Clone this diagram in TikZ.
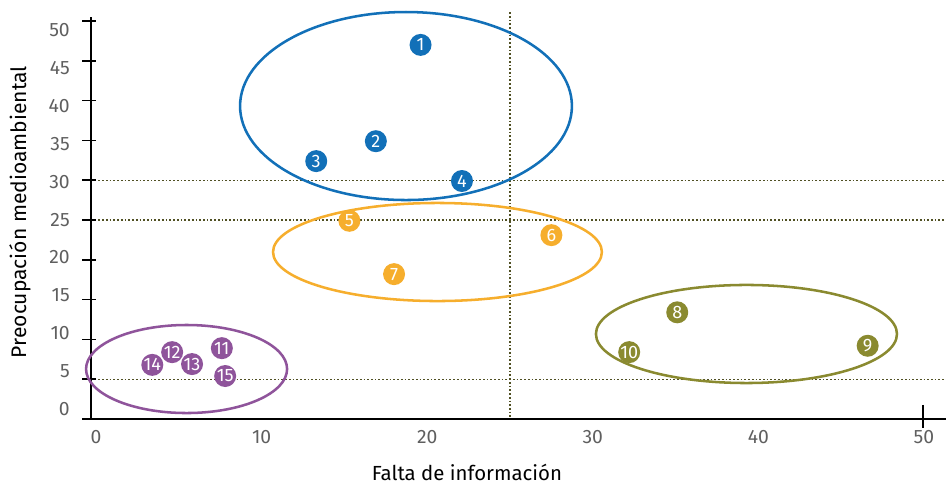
\documentclass[tikz,border=0pt]{standalone}
\usepackage{fontspec}
\setmainfont{Fira Sans}
\setsansfont{Fira Sans}
\usepackage{tikz}
\definecolor{grupoblue}{RGB}{18,112,184}
\definecolor{grupoorange}{RGB}{246,174,45}
\definecolor{grupoolive}{RGB}{138,138,48}
\definecolor{grupopurple}{RGB}{143,84,155}
\definecolor{guide}{RGB}{80,80,35}
\definecolor{ticklabel}{RGB}{95,95,95}

\begin{document}
\begin{tikzpicture}[x=12.42pt,y=5.97pt,
  punto/.style={circle,fill=#1,text=white,minimum size=16.5pt,inner sep=0pt,font=\fontsize{13.5}{13.5}\selectfont},
  grupo/.style={draw=#1,line width=1.9pt},
  guia/.style={guide,line width=0.85pt,dash pattern=on 1.3pt off 1.5pt}]
\useasboundingbox (-5.797,-8.417) rectangle (51.33,52.64);

% Guide lines
\draw[guia] (-0.3,30) -- (51.33,30);
\draw[guia] (-0.3,25) -- (51.33,25);
\draw[guia] (-0.3,5) -- (51.33,5);
\draw[guia] (25,51.1) -- (25,0);

% Axes
\draw[line width=1.1pt] (-0.3,50.5) -- (-0.3,0);
\draw[line width=1.1pt] (-0.785,0) -- (51.33,0);
\foreach \v in {0,5,...,50}
  \draw[line width=1.1pt] (-0.845,\v) -- (0,\v);
\draw[line width=0.8pt] (49.94,1.76) -- (49.94,-1.13);

% Tick labels
\foreach \v in {0,5,...,50}
  \node[anchor=east,text=ticklabel,font=\fontsize{14.5}{15}\selectfont,inner sep=0pt] at (-1.57,{1.256+0.952*\v}) {\v};
\foreach \v in {0,10,...,50}
  \node[text=ticklabel,font=\fontsize{14.5}{15}\selectfont,inner sep=0pt] at (\v,-2.26) {\v};

% Axis titles
\node[font=\fontsize{15.3}{16}\selectfont] (xlabel) at (22.4,-6.66) {Falta de información};
\node[font=\fontsize{15.8}{16}\selectfont,rotate=90] (ylabel) at (-4.59,26.0) {Preocupación medioambiental};

% Groups
\draw[grupo=grupoblue] (18.72,39.32) ellipse [x radius=10.02,y radius=11.81];
\draw[grupo=grupoorange] (20.62,20.98) ellipse [x radius=9.93,y radius=6.16];
\draw[grupo=grupoolive] (39.28,10.68) ellipse [x radius=9.09,y radius=6.16];
\draw[grupo=grupopurple] (5.47,6.28) ellipse [x radius=6.07,y radius=5.53];

% Points
\node[punto=grupoblue] (p1) at (19.6,47) {1};
\node[punto=grupoblue] (p2) at (16.9,34.9) {2};
\node[punto=grupoblue] (p3) at (13.3,32.4) {3};
\node[punto=grupoblue] (p4) at (22.1,29.9) {4};
\node[punto=grupoorange] (p5) at (15.3,24.9) {5};
\node[punto=grupoorange] (p6) at (27.5,23.1) {6};
\node[punto=grupoorange] (p7) at (18,18.2) {7};
\node[punto=grupoolive] (p8) at (35.1,13.4) {8};
\node[punto=grupoolive] (p9) at (46.6,9.2) {9};
\node[punto=grupoolive] (p10) at (32.2,8.4) {10};
\node[punto=grupopurple] (p11) at (7.6,8.9) {11};
\node[punto=grupopurple] (p12) at (4.6,8.4) {12};
\node[punto=grupopurple] (p13) at (5.8,6.9) {13};
\node[punto=grupopurple] (p14) at (3.4,6.8) {14};
\node[punto=grupopurple] (p15) at (7.8,5.4) {15};
\end{tikzpicture}
\end{document}
